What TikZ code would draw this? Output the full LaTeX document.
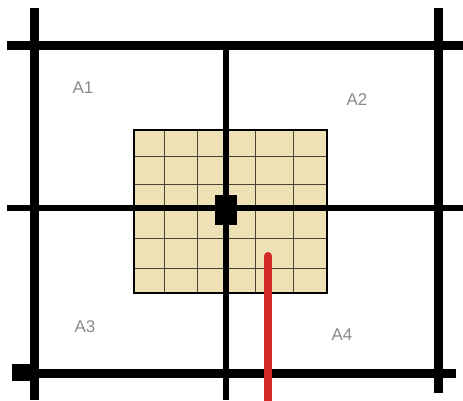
\documentclass[tikz,border=0pt]{standalone}
\usepackage{fontspec}
\setmainfont{Liberation Sans}
\definecolor{tan}{HTML}{EEE1B6}
\definecolor{gridc}{HTML}{4A4436}
\definecolor{redl}{HTML}{D42A2A}
\definecolor{lab}{HTML}{8A8A8A}
\begin{document}
\begin{tikzpicture}[x=1pt,y=-1pt,
  wall/.style={line width=9pt,black},
  thin wall/.style={line width=5.5pt,black},
  cellline/.style={line width=1pt,gridc},
  lbl/.style={text=lab,font=\fontsize{17}{17}\selectfont,inner sep=0pt}]
\useasboundingbox[fill=white] (0,0) rectangle (463,400);
% tan grid
\fill[tan] (134,130) rectangle (327,293);
\foreach \x in {164,197,255,293} \draw[cellline] (\x,130) -- (\x,293);
\foreach \y in {156,184,238,268} \draw[cellline] (134,\y) -- (327,\y);
\draw[line width=1.3pt,black] (134,130) rectangle (327,293);
% walls
\coordinate (tl) at (7,45); \coordinate (tr) at (463,45);
\draw[wall] (tl) -- (tr);
\coordinate (lt) at (34,8); \coordinate (lb) at (34,400);
\draw[wall] (lt) -- (lb);
\coordinate (rt) at (438,8); \coordinate (rb) at (438,393);
\draw[wall] (rt) -- (rb);
\coordinate (bl) at (12,373); \coordinate (br) at (456,373);
\draw[wall] (bl) -- (br);
\fill[black] (12,364) rectangle (30,381);
\coordinate (mt) at (226,45); \coordinate (mb) at (226,400);
\draw[thin wall] (mt) -- (mb);
\coordinate (hl) at (7,208); \coordinate (hr) at (463,208);
\draw[thin wall] (hl) -- (hr);
% central block
\fill[black] (215,195) rectangle (237,225);
% red line
\coordinate (rtop) at (268,256); \coordinate (rbot) at (268,405);
\draw[redl,line width=8pt,line cap=round] (rtop) -- (rbot);
% labels
\node[lbl] (a1) at (83,88) {A1};
\node[lbl] (a2) at (357,100) {A2};
\node[lbl] (a3) at (85,327) {A3};
\node[lbl] (a4) at (342,335) {A4};
\end{tikzpicture}
\end{document}
